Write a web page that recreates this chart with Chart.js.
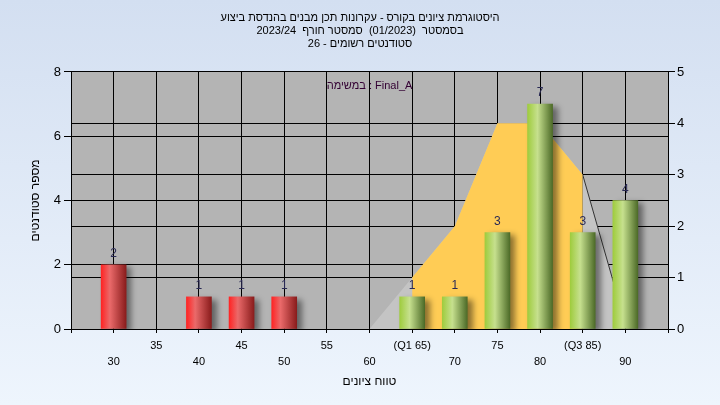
<!DOCTYPE html>
<html>
<head>
<meta charset="utf-8">
<script src="https://cdn.jsdelivr.net/npm/chart.js@4"></script>
<style>
  body { margin: 0; }
  #wrap { width: 720px; height: 405px; background: linear-gradient(#d3dff1, #eef5fd); }
</style>
</head>
<body>
<div id="wrap"><canvas id="histChart"></canvas></div>
<script>
// ציונים ומספר סטודנטים
const grades = [30, 35, 40, 45, 50, 55, 60, 65, 70, 75, 80, 85, 90];
const students = [2, 0, 1, 1, 1, 0, 0, 1, 1, 3, 7, 3, 4];
const gradeTickLabels = ["30", "35", "40", "45", "50", "55", "60", "(Q1 65)", "70", "75", "80", "(Q3 85)", "90"];

// עקומת התפלגות (ציר ימני)
const curveGrades = [60, 65, 70, 75, 80, 85, 90];
const curveValues = [0, 1, 2, 4, 4, 3, 0.1];
// תחום בין Q1 ל-Q3
const iqrGrades = [65, 70, 75, 80, 85];
const iqrValues = [1, 2, 4, 4, 3];

const passGrade = 60;
const titleLines = [
    "היסטוגרמת ציונים בקורס - עקרונות תכן מבנים בהנדסת ביצוע",
    "בסמסטר  (01/2023)  סמסטר חורף  2023/24",
    "סטודנטים רשומים - 26",
];
const taskLabel = "במשימה : Final_A";

const FONT = "'Liberation Sans', Arial, sans-serif";

function barGradient(c) {
    const chart = c.chart;
    const xs = chart.scales.x;
    const red = c.raw && c.raw.x < passGrade;
    if (c.type !== "data" || !xs) return red ? "#d03030" : "#8fb848";
    const px = xs.getPixelForValue(c.raw.x);
    if (!isFinite(px)) return red ? "#d03030" : "#8fb848";
    const g = chart.ctx.createLinearGradient(px - 12.5, 0, px + 12.5, 0);
    if (red) {
        g.addColorStop(0, "#ff2424");
        g.addColorStop(0.35, "#ea6a6a");
        g.addColorStop(1, "#8a1c1c");
    } else {
        g.addColorStop(0, "#9fcc3e");
        g.addColorStop(0.4, "#c6e08e");
        g.addColorStop(1, "#4d6b28");
    }
    return g;
}

const shadowPlugin = {
    id: "barShadow",
    beforeDatasetDraw(chart, args) {
        if (chart.data.datasets[args.index].type !== "bar") return;
        const ctx = chart.ctx;
        ctx.save();
        ctx.shadowColor = "rgba(0,0,0,0.45)";
        ctx.shadowBlur = 6;
        ctx.shadowOffsetX = 5;
        ctx.shadowOffsetY = 3;
    },
    afterDatasetDraw(chart, args) {
        if (chart.data.datasets[args.index].type !== "bar") return;
        chart.ctx.restore();
    },
};

const labelsPlugin = {
    id: "barValues",
    afterDatasetsDraw(chart) {
        const ctx = chart.ctx;
        const meta = chart.getDatasetMeta(0);
        ctx.save();
        ctx.font = "12px " + FONT;
        ctx.fillStyle = "#2a2a55";
        ctx.textAlign = "center";
        ctx.textBaseline = "middle";
        meta.data.forEach((el, i) => {
            if (!students[i]) return;
            ctx.fillText(String(students[i]), el.x, el.y - 11);
        });
        // טקסט המשימה בראש אזור הגרף
        const a = chart.chartArea;
        ctx.font = "11px " + FONT;
        ctx.fillStyle = "#330033";
        ctx.fillText(taskLabel, (a.left + a.right) / 2, a.top + 14);
        ctx.restore();
    },
};

const ctx = document.getElementById("histChart");

new Chart(ctx, {
    data: {
        datasets: [
            {
                type: "bar",
                // עמודה ריקה לא מצוירת
                data: grades.map((g, i) => ({ x: g, y: students[i] || null })),
                backgroundColor: barGradient,
                borderWidth: 0,
                barThickness: 25,
                yAxisID: "y",
                order: 0,
            },
            {
                type: "line",
                data: iqrGrades.map((g, i) => ({ x: g, y: iqrValues[i] })),
                backgroundColor: "#ffcc55",
                borderWidth: 0,
                fill: "origin",
                pointRadius: 0,
                tension: 0,
                yAxisID: "y1",
                order: 1,
            },
            {
                type: "line",
                data: curveGrades.map((g, i) => ({ x: g, y: curveValues[i] })),
                backgroundColor: "#c4c4c4",
                borderWidth: 1,
                segment: {
                    borderColor: (s) => (s.p0.parsed.x >= 85 ? "#333" : "rgba(0,0,0,0)"),
                },
                fill: "origin",
                pointRadius: 0,
                tension: 0,
                yAxisID: "y1",
                order: 2,
            },
        ],
    },
    options: {
        responsive: true,
        maintainAspectRatio: false,
        animation: false,
        layout: { padding: 0 },
        plugins: {
            legend: { display: false },
            tooltip: { enabled: false },
            title: {
                display: true,
                text: titleLines,
                color: "#000",
                font: { family: FONT, size: 11, weight: "normal", lineHeight: 1.15 },
                padding: { top: 12, bottom: 22 },
            },
        },
        scales: {
            x: {
                type: "linear",
                offset: false,
                min: 25,
                max: 95,
                ticks: {
                    stepSize: 5,
                    color: "#000",
                    font: { family: FONT, size: 11, lineHeight: 1.45 },
                    padding: 5,
                    maxRotation: 0,
                    autoSkip: false,
                    callback: (v) => {
                        const i = grades.indexOf(v);
                        if (i < 0) return "";
                        return i % 2 === 0 ? ["", gradeTickLabels[i]] : gradeTickLabels[i];
                    },
                },
                grid: { color: "#000", tickLength: 4, offset: false },
                border: { color: "#000" },
                title: {
                    display: true,
                    text: "טווח ציונים",
                    color: "#000",
                    font: { family: FONT, size: 12 },
                    padding: { top: 0, bottom: 16 },
                },
                afterFit: (s) => { s.height = 76; },
            },
            y: {
                position: "left",
                min: 0,
                max: 8,
                ticks: {
                    stepSize: 2,
                    color: "#000",
                    font: { family: FONT, size: 13 },
                    padding: 3,
                },
                grid: { color: "#000", tickLength: 7 },
                border: { color: "#000" },
                title: {
                    display: true,
                    text: "מספר סטודנטים",
                    color: "#000",
                    font: { family: FONT, size: 12 },
                    padding: { top: 28, bottom: 0 },
                },
                afterFit: (s) => { s.width = 71; },
            },
            y1: {
                position: "right",
                min: 0,
                max: 5,
                ticks: {
                    stepSize: 1,
                    color: "#000",
                    font: { family: FONT, size: 13 },
                    padding: 2,
                },
                grid: { color: "#000", tickLength: 7, drawOnChartArea: true },
                border: { color: "#000" },
                afterFit: (s) => { s.width = 52; },
            },
        },
    },
    plugins: [shadowPlugin, labelsPlugin,
        {
            id: "plotBg",
            beforeDraw(chart) {
                const a = chart.chartArea;
                chart.ctx.save();
                chart.ctx.fillStyle = "#b4b4b4";
                chart.ctx.fillRect(a.left, a.top, a.right - a.left, a.bottom - a.top);
                chart.ctx.restore();
            },
        }],
});
</script>
</body>
</html>
